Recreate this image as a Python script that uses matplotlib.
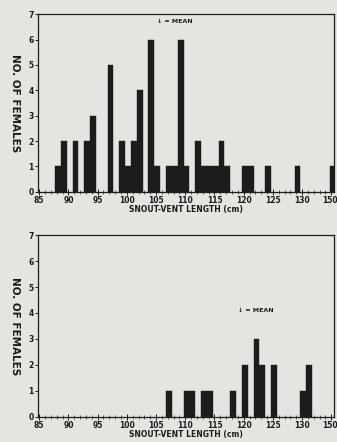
import numpy as np
import matplotlib.pyplot as plt

# snout-vent length (cm) bins and counts of females, two samples
svl_top = [88, 89, 91, 93, 94, 97, 99, 100, 101, 102, 104, 105, 107, 108, 109,
           110, 112, 113, 114, 115, 116, 117, 120, 121, 124, 129, 135]
n_top = [1, 2, 2, 2, 3, 5, 2, 1, 2, 4, 6, 1, 1, 1, 6,
         1, 2, 1, 1, 1, 2, 1, 1, 1, 1, 1, 1]

svl_bot = [107, 110, 111, 113, 114, 118, 120, 122, 123, 125, 130, 131]
n_bot = [1, 1, 1, 1, 1, 1, 2, 3, 2, 2, 1, 2]

xticks = [85, 90, 95, 100, 105, 110, 115, 120, 125, 130, 135]
xticklabels = ['85', '90', '95', '100', '105', '110', '115', '120', '125', '130', '150']
yticks = [0, 1, 2, 3, 4, 5, 6, 7]

bg = '#e4e4e0'
ink = '#1c1c1c'
fs = 5.5

fig = plt.figure(figsize=(3.37, 4.42), dpi=100, facecolor=bg)
ax1 = fig.add_axes([0.112, 0.566, 0.879, 0.402])
ax2 = fig.add_axes([0.112, 0.057, 0.879, 0.411])

def style(ax, svl, n, mean_xy):
    ax.set_facecolor(bg)
    ax.bar(np.array(svl) - 0.3, n, width=1.0, align='edge', color=ink, edgecolor=ink, linewidth=0.3)
    ax.set_xlim(84.75, 135.45)
    ax.set_ylim(0, 7)
    ax.set_xticks(xticks)
    # last label drawn separately so it stays inside the figure edge
    ax.set_xticklabels(xticklabels[:-1] + [''], fontsize=fs, fontweight='bold', color=ink)
    ax.annotate(xticklabels[-1], xy=(xticks[-1], 0), xycoords='data', xytext=(-1.3, -3),
                textcoords='offset points', ha='center', va='top', fontsize=fs,
                fontweight='bold', color=ink, annotation_clip=False)
    ax.set_xticks(np.arange(85, 136, 1), minor=True)
    ax.set_yticks(yticks)
    ax.set_yticklabels([str(v) for v in yticks], fontsize=fs, fontweight='bold', color=ink)
    ax.tick_params(axis='x', which='major', direction='inout', length=4, width=0.7, pad=1, colors=ink)
    ax.tick_params(axis='x', which='minor', direction='inout', length=2.5, width=0.5, colors=ink)
    ax.tick_params(axis='y', which='major', direction='out', length=2, width=0.7, pad=1, colors=ink)
    for s in ax.spines.values():
        s.set_linewidth(0.9)
        s.set_color(ink)
    ax.set_xlabel('SNOUT-VENT LENGTH (cm)', fontsize=fs, fontweight='bold', color=ink, labelpad=0)
    ax.text(mean_xy[0], mean_xy[1], '\u2193 = MEAN', fontsize=4.5, fontweight='bold', color=ink,
            ha='center', va='center')
    pos = ax.get_position()
    fig.text(15 / 337, (pos.y0 + pos.y1) / 2, 'NO. OF FEMALES', fontsize=7.5, fontweight='bold',
             color=ink, rotation=270, ha='center', va='center')

style(ax1, svl_top, n_top, (108.2, 6.7))
style(ax2, svl_bot, n_bot, (122.0, 4.1))

fig.savefig('out.png', dpi=100, facecolor=bg)
